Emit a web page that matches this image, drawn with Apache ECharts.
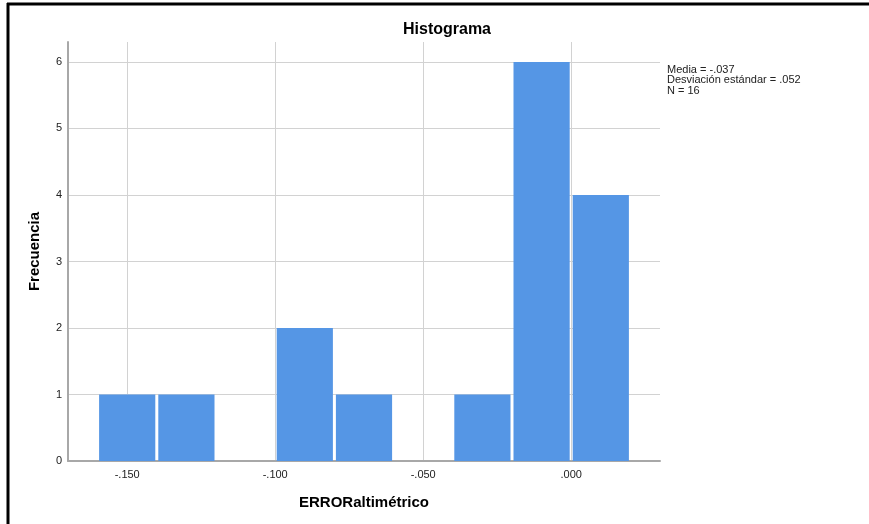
<!DOCTYPE html>
<html>
<head>
<meta charset="utf-8">
<script src="https://cdn.jsdelivr.net/npm/echarts@6/dist/echarts.min.js"></script>
<style>
html,body{margin:0;padding:0;background:#fff;}
#c{width:869px;height:524px;}
</style>
</head>
<body>
<div id="c"></div>
<script>
// Data
const binStarts = [-0.16, -0.14, -0.12, -0.10, -0.08, -0.06, -0.04, -0.02, 0.00];
const binWidth = 0.02;
const counts = [1, 1, 0, 2, 1, 0, 1, 6, 4];
const xTicks = [-0.15, -0.10, -0.05, 0.00];
const yTicks = [0, 1, 2, 3, 4, 5, 6];
const statsLines = ['Media = -.037', 'Desviación estándar = .052', 'N = 16'];

function fmtX(v) {
  const s = Math.abs(v).toFixed(3).replace(/^0/, '');
  return (v < -1e-9 ? '-' : '') + s;
}

const FONT = '"Liberation Sans", Arial, sans-serif';
const chart = echarts.init(document.getElementById('c'), null, {renderer: 'canvas'});

const histData = binStarts.map((s, i) => [s, s + binWidth, counts[i]]);

chart.setOption({
  animation: false,
  backgroundColor: '#ffffff',
  title: {
    text: 'Histograma',
    left: 442,
    top: 17,
    textAlign: 'center',
    textStyle: {fontFamily: FONT, fontSize: 16, fontWeight: 'bold', color: '#000'}
  },
  grid: {left: 68, right: 209, top: 42, bottom: 63, containLabel: false},
  xAxis: {
    type: 'value',
    min: -0.17,
    max: 0.03,
    name: 'ERRORaltimétrico',
    nameLocation: 'middle',
    nameGap: 34,
    nameTextStyle: {fontFamily: FONT, fontSize: 15, fontWeight: 'bold', color: '#000'},
    axisLine: {show: true, onZero: false, lineStyle: {color: '#a8a8a8', width: 2}},
    axisTick: {show: false, customValues: xTicks},
    axisLabel: {
      customValues: xTicks,
      formatter: fmtX,
      margin: 8,
      fontFamily: FONT, fontSize: 11, color: '#222'
    },
    splitLine: {show: true, lineStyle: {color: '#d2d2d2', width: 1}}
  },
  yAxis: {
    type: 'value',
    min: 0,
    max: 6.3,
    name: 'Frecuencia',
    nameLocation: 'middle',
    nameGap: 26,
    nameTextStyle: {fontFamily: FONT, fontSize: 15, fontWeight: 'bold', color: '#000'},
    axisLine: {show: true, onZero: false, lineStyle: {color: '#a8a8a8', width: 2}},
    axisTick: {show: false, customValues: yTicks},
    axisLabel: {
      customValues: yTicks,
      margin: 6,
      fontFamily: FONT, fontSize: 11, color: '#222'
    },
    splitLine: {show: true, lineStyle: {color: '#d2d2d2', width: 1}}
  },
  series: [{
    type: 'custom',
    data: histData,
    encode: {x: [0, 1], y: 2},
    renderItem: function (params, api) {
      const c = api.value(2);
      if (!c) return null;
      const p0 = api.coord([api.value(0), c]);
      const p1 = api.coord([api.value(1), 0]);
      return {
        type: 'rect',
        shape: {x: p0[0] + 1.5, y: p0[1], width: p1[0] - p0[0] - 3, height: p1[1] - p0[1]},
        style: {fill: '#5596e5'}
      };
    },
    z: 3
  }],
  graphic: [
    {type: 'line', shape: {x1: 7, y1: 4, x2: 869, y2: 4}, style: {stroke: '#000', lineWidth: 3}, z: 100},
    {type: 'line', shape: {x1: 8, y1: 3, x2: 8, y2: 524}, style: {stroke: '#000', lineWidth: 3}, z: 100},
    {
      type: 'text', left: 667, top: 64,
      style: {
        text: statsLines.join('\n'),
        font: '11px ' + FONT,
        lineHeight: 10.5,
        fill: '#222'
      }
    }
  ]
});
</script>
</body>
</html>
